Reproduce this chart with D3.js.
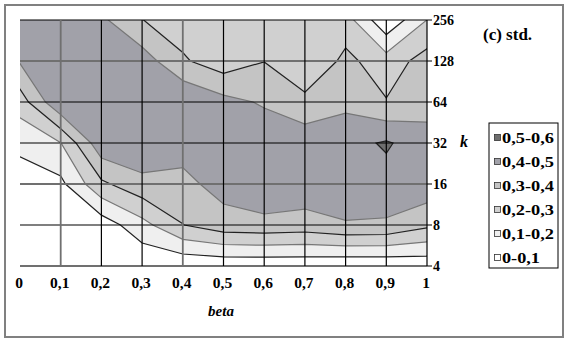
<!DOCTYPE html>
<html>
<head>
<meta charset="utf-8">
<script src="https://cdn.jsdelivr.net/npm/d3@7"></script>
<style>
body { margin: 0; background: #fff; }
svg { display: block; }
</style>
</head>
<body>
<script>
// beta = колонки, k = строки (снизу вверх)
const betas = [0, 0.1, 0.2, 0.3, 0.4, 0.5, 0.6, 0.7, 0.8, 0.9, 1];
const kValues = [4, 8, 16, 32, 64, 128, 256];

// std по строкам k, значения по beta 0..1
const std_k4   = [0.010, 0.015, 0.020, 0.017, 0.018, 0.027, 0.027, 0.027, 0.018, 0.018, 0.030];
const std_k8   = [0.030, 0.040, 0.043, 0.165, 0.298, 0.357, 0.368, 0.356, 0.390, 0.385, 0.320];
const std_k16  = [0.061, 0.076, 0.280, 0.369, 0.370, 0.441, 0.487, 0.469, 0.480, 0.470, 0.468];
const std_k32  = [0.120, 0.198, 0.470, 0.484, 0.445, 0.498, 0.470, 0.460, 0.470, 0.510, 0.450];
const std_k64  = [0.250, 0.490, 0.480, 0.480, 0.495, 0.432, 0.388, 0.330, 0.374, 0.306, 0.352];
const std_k128 = [0.410, 0.470, 0.490, 0.451, 0.313, 0.243, 0.298, 0.205, 0.326, 0.245, 0.342];
const std_k256 = [0.490, 0.460, 0.420, 0.302, 0.250, 0.240, 0.260, 0.250, 0.245, 0.020, 0.201];

const thresholds = [0.1, 0.2, 0.3, 0.4, 0.5];
const legendLabels = ["0,5-0,6", "0,4-0,5", "0,3-0,4", "0,2-0,3", "0,1-0,2", "0-0,1"];

const bandFill = ["#ffffff", "#efefef", "#d0d0d0", "#c4c4c4", "#a1a1a9", "#6e6e6e"];
const lineColor = ["#222", "#777", "#222", "#777", "#222"];

const rows = [std_k4, std_k8, std_k16, std_k32, std_k64, std_k128, std_k256];
const values = [].concat(...rows);

const serif = "'Liberation Serif', 'Times New Roman', 'DejaVu Serif', serif";

const svg = d3.select("body").append("svg")
    .attr("width", 570)
    .attr("height", 343)
    .attr("font-family", serif);

// рамка
svg.append("rect")
    .attr("x", 5).attr("y", 5)
    .attr("width", 558).attr("height", 332)
    .attr("fill", "none")
    .attr("stroke", "#808080")
    .attr("stroke-width", 2);

const x = d3.scaleLinear().domain([0, 1]).range([20, 427]);
const y = d3.scaleLog().base(2).domain([4, 256]).range([266, 20]);

// координаты d3.contours: узел i лежит в i + 0.5
const betaStep = betas[1] - betas[0];
const proj = d3.geoTransform({
    point: function(px, py) {
        const b = betas[0] + (px - 0.5) * betaStep;
        const k = kValues[0] * Math.pow(2, py - 0.5);
        this.stream.point(x(b), y(k));
    }
});
const path = d3.geoPath(proj);

svg.append("clipPath").attr("id", "plotClip")
    .append("rect")
    .attr("x", x(0)).attr("y", y(256))
    .attr("width", x(1) - x(0)).attr("height", y(4) - y(256));

const plot = svg.append("g").attr("clip-path", "url(#plotClip)");

plot.append("rect")
    .attr("x", x(0)).attr("y", y(256))
    .attr("width", x(1) - x(0)).attr("height", y(4) - y(256))
    .attr("fill", bandFill[0]);

const contours = d3.contours()
    .size([betas.length, kValues.length])
    .thresholds(thresholds)(values);

plot.selectAll("path.band")
    .data(contours)
    .enter().append("path")
    .attr("class", "band")
    .attr("d", path)
    .attr("fill", (d, i) => bandFill[i + 1])
    .attr("stroke", "none");

plot.selectAll("path.iso")
    .data(contours)
    .enter().append("path")
    .attr("class", "iso")
    .attr("d", path)
    .attr("fill", "none")
    .attr("stroke", (d, i) => lineColor[i])
    .attr("stroke-width", 1.2);

// сетка
const grayK = [128, 16, 4];
svg.selectAll("line.hgrid")
    .data(kValues)
    .enter().append("line")
    .attr("x1", x(0)).attr("x2", x(1))
    .attr("y1", d => y(d)).attr("y2", d => y(d))
    .attr("stroke", d => grayK.includes(d) ? "#707070" : "#000")
    .attr("stroke-width", d => grayK.includes(d) ? 2 : 1.2);

const grayB = [0.1, 0.4];
svg.selectAll("line.vgrid")
    .data(betas.slice(1))
    .enter().append("line")
    .attr("x1", d => x(d)).attr("x2", d => x(d))
    .attr("y1", y(256)).attr("y2", y(4))
    .attr("stroke", d => grayB.includes(d) ? "#707070" : "#000")
    .attr("stroke-width", d => grayB.includes(d) ? 1.8 : 1.2);

// ось k справа
const yAxis = svg.append("g");
yAxis.selectAll("line")
    .data(kValues)
    .enter().append("line")
    .attr("x1", x(1)).attr("x2", x(1) + 5)
    .attr("y1", d => y(d)).attr("y2", d => y(d))
    .attr("stroke", "#000");
yAxis.selectAll("text")
    .data(kValues)
    .enter().append("text")
    .attr("x", x(1) + 6)
    .attr("y", d => y(d) + 5)
    .attr("font-size", 14)
    .attr("font-weight", "bold")
    .text(d => d);

svg.append("text")
    .attr("x", 460).attr("y", 147)
    .attr("font-size", 16)
    .attr("font-style", "italic")
    .attr("font-weight", "bold")
    .text("k");

// ось beta
const fmt = d3.formatLocale({ decimal: ",", thousands: ".", grouping: [3], currency: ["", ""] }).format("~g");
svg.append("g").selectAll("text")
    .data(betas)
    .enter().append("text")
    .attr("x", d => x(d) - 1)
    .attr("y", 288)
    .attr("text-anchor", "middle")
    .attr("font-size", 15.5)
    .attr("font-weight", "bold")
    .text(d => fmt(d));

svg.append("text")
    .attr("x", 221).attr("y", 316)
    .attr("text-anchor", "middle")
    .attr("font-size", 15)
    .attr("font-style", "italic")
    .attr("font-weight", "bold")
    .text("beta");

svg.append("text")
    .attr("x", 483).attr("y", 40)
    .attr("font-size", 17)
    .attr("font-weight", "bold")
    .text("(c) std.");

// легенда
const legend = svg.append("g");
legend.append("rect")
    .attr("x", 489).attr("y", 123)
    .attr("width", 69).attr("height", 145)
    .attr("fill", "#fff")
    .attr("stroke", "#000");
const items = legend.selectAll("g.item")
    .data(legendLabels)
    .enter().append("g")
    .attr("transform", (d, i) => "translate(0," + (138 + i * 24) + ")");
items.append("rect")
    .attr("x", 494.5).attr("y", -3.5)
    .attr("width", 6).attr("height", 6)
    .attr("fill", (d, i) => bandFill[bandFill.length - 1 - i])
    .attr("stroke", "#333")
    .attr("stroke-width", 0.8);
items.append("text")
    .attr("x", 502).attr("y", 5)
    .attr("font-size", 14.5)
    .attr("font-weight", "bold")
    .attr("textLength", d => d.length > 5 ? 52 : 38)
    .attr("lengthAdjust", "spacingAndGlyphs")
    .text(d => d);
</script>
</body>
</html>
